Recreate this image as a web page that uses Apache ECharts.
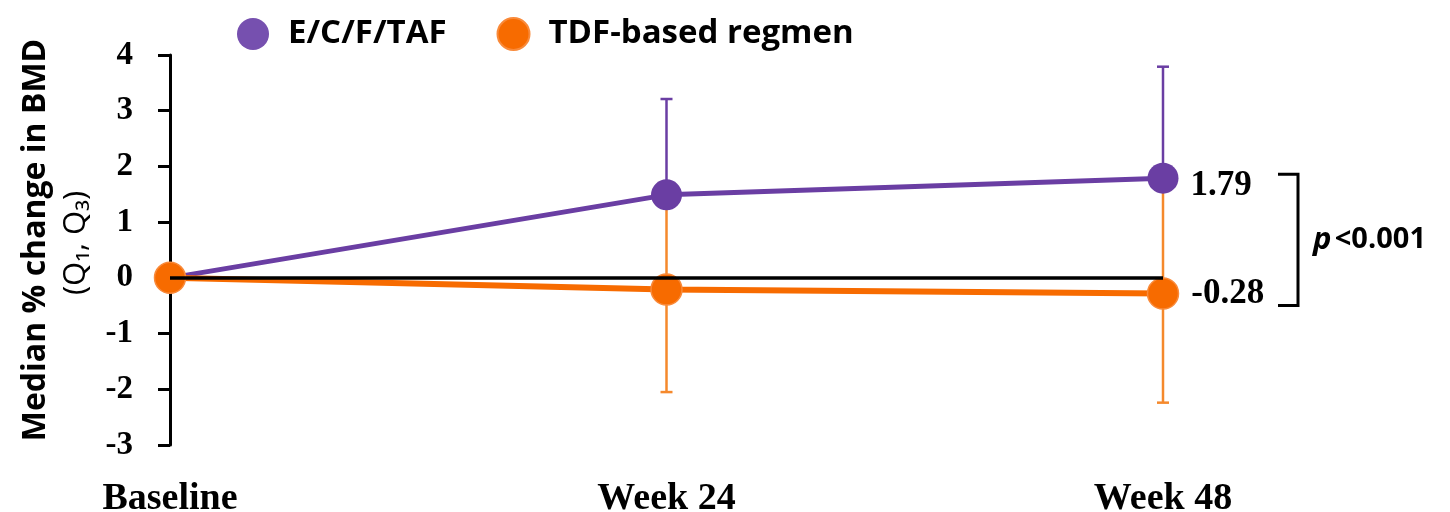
<!DOCTYPE html>
<html>
<head>
<meta charset="utf-8">
<script src="https://cdn.jsdelivr.net/npm/echarts@6/dist/echarts.min.js"></script>
<style>
  html, body { margin: 0; padding: 0; background: #fff; }
  #chart { width: 1450px; height: 512px; }
</style>
</head>
<body>
<div id="chart"></div>
<script>
// Visits on the x axis
const categories = ['Baseline', 'Week 24', 'Week 48'];
// Median % change in BMD with first and third quartiles
const tafMedian = [0, 1.49, 1.79];
const tafQ1 = [0, 1.3, 1.6];
const tafQ3 = [0, 3.21, 3.79];
const tdfMedian = [0, -0.21, -0.28];
const tdfQ1 = [0, -2.05, -2.24];
const tdfQ3 = [0, 1.35, 1.6];
// y-axis ticks
const yTicks = [-3, -2, -1, 0, 1, 2, 3, 4];
const seriesNames = ['E/C/F/TAF', 'TDF-based regmen'];
const pText = '<0.001';

const PURPLE = '#6a3ea3';
const PURPLE_LEG = '#7650af';
const ORANGE = '#f76b00';
const ORANGE_BAR = '#f5892c';
const SERIF = '"Liberation Serif", "Times New Roman", serif';
const SANS = '"Open Sans", Lato, sans-serif';

const chart = echarts.init(document.getElementById('chart'));

function errorBars(q1, q3, color) {
  return {
    type: 'custom',
    z: 1,
    silent: true,
    data: q1.map((v, i) => [i, v, q3[i]]),
    encode: { x: 0, y: [1, 2] },
    renderItem: function (params, api) {
      const lo = api.value(1), hi = api.value(2);
      if (lo === hi) return null;
      const idx = api.value(0);
      const a = api.coord([idx, lo]);
      const b = api.coord([idx, hi]);
      const w = 6;
      const st = { stroke: color, lineWidth: 2.5 };
      return {
        type: 'group',
        children: [
          { type: 'line', shape: { x1: a[0], y1: a[1], x2: b[0], y2: b[1] }, style: st },
          { type: 'line', shape: { x1: a[0] - w, y1: a[1], x2: a[0] + w, y2: a[1] }, style: st },
          { type: 'line', shape: { x1: b[0] - w, y1: b[1], x2: b[0] + w, y2: b[1] }, style: st }
        ]
      };
    }
  };
}

function lineData(vals, offsetY) {
  const last = vals.length - 1;
  return vals.map((v, i) => ({
    value: v,
    label: {
      show: i === last,
      position: 'right',
      distance: 12,
      offset: [0, offsetY],
      formatter: '{c}',
      fontFamily: SERIF,
      fontWeight: 'bold',
      fontSize: 35,
      color: '#000'
    }
  }));
}

const option = {
  animation: false,
  backgroundColor: '#fff',
  grid: {
    left: 170, right: 287, top: 55, bottom: 67,
    containLabel: false, outerBoundsMode: 'none'
  },
  legend: {
    left: 232,
    top: 12,
    icon: 'circle',
    itemWidth: 32,
    itemHeight: 32,
    itemGap: 50,
    data: [
      { name: seriesNames[0], itemStyle: { color: PURPLE_LEG } },
      { name: seriesNames[1], itemStyle: { color: ORANGE } }
    ],
    textStyle: {
      fontFamily: SANS, fontWeight: 'bold', fontSize: 33, color: '#000',
      padding: [0, 0, 0, 14]
    }
  },
  xAxis: {
    type: 'category',
    data: categories,
    boundaryGap: false,
    axisLine: { show: false },
    axisTick: { show: false },
    axisLabel: {
      margin: 35,
      fontFamily: SERIF, fontWeight: 'bold', fontSize: 38, color: '#000'
    }
  },
  yAxis: {
    type: 'value',
    min: yTicks[0],
    max: yTicks[yTicks.length - 1],
    interval: 1,
    splitLine: { show: false },
    axisLine: { show: true, lineStyle: { color: '#000', width: 3 } },
    axisTick: { show: true, length: 12, lineStyle: { color: '#000', width: 3 } },
    axisLabel: {
      margin: 37,
      fontFamily: SERIF, fontWeight: 'bold', fontSize: 33, color: '#000'
    }
  },
  series: [
    Object.assign(errorBars(tafQ1, tafQ3, PURPLE), {
      markLine: {
        silent: true,
        symbol: ['none', 'none'],
        label: { show: false },
        lineStyle: { color: '#000', width: 3.5, type: 'solid' },
        data: [{ yAxis: 0 }]
      }
    }),
    errorBars(tdfQ1, tdfQ3, ORANGE_BAR),
    {
      name: seriesNames[0],
      type: 'line',
      z: 3,
      data: lineData(tafMedian, 8),
      symbol: 'circle',
      symbolSize: 31,
      lineStyle: { color: PURPLE, width: 5 },
      itemStyle: { color: PURPLE }
    },
    {
      name: seriesNames[1],
      type: 'line',
      z: 4,
      data: lineData(tdfMedian, 0),
      symbol: 'circle',
      symbolSize: 31,
      lineStyle: { color: ORANGE, width: 6 },
      itemStyle: { color: ORANGE, borderColor: '#f98a3a', borderWidth: 1.5 }
    }
  ]
};

chart.setOption(option);

// y-axis title and the p-value bracket between the two final medians
const last = categories.length - 1;
const pTop = chart.convertToPixel({ xAxisIndex: 0, yAxisIndex: 0 }, [last, tafMedian[last]]);
const pBot = chart.convertToPixel({ xAxisIndex: 0, yAxisIndex: 0 }, [last, tdfMedian[last]]);
const bx = 1298;
const yTop = pTop[1] - 4, yBot = pBot[1] + 12;

chart.setOption({
  graphic: [
    {
      type: 'text', x: 36, y: 240, rotation: Math.PI / 2,
      style: {
        text: 'Median % change in BMD', fontFamily: SANS, fontWeight: 'bold',
        fontSize: 32, fill: '#000', align: 'center', verticalAlign: 'middle'
      }
    },
    {
      type: 'text', x: 76, y: 243, rotation: Math.PI / 2,
      style: {
        text: '(Q\u2081, Q\u2083)', fontFamily: SANS,
        fontSize: 31, fill: '#000', align: 'center', verticalAlign: 'middle'
      }
    },
    {
      type: 'polyline',
      shape: { points: [[bx - 20, yTop], [bx, yTop], [bx, yBot], [bx - 20, yBot]] },
      style: { stroke: '#000', lineWidth: 3, fill: null }
    },
    {
      type: 'text', x: 1313, y: (yTop + yBot) / 2,
      style: {
        text: '{i|p} {n|' + pText + '}',
        rich: {
          i: { fontFamily: SANS, fontWeight: 'bold', fontStyle: 'italic', fontSize: 31, fill: '#000' },
          n: { fontFamily: SANS, fontWeight: 'bold', fontSize: 29, fill: '#000' }
        },
        align: 'left', verticalAlign: 'middle'
      }
    }
  ]
});
</script>
</body>
</html>
